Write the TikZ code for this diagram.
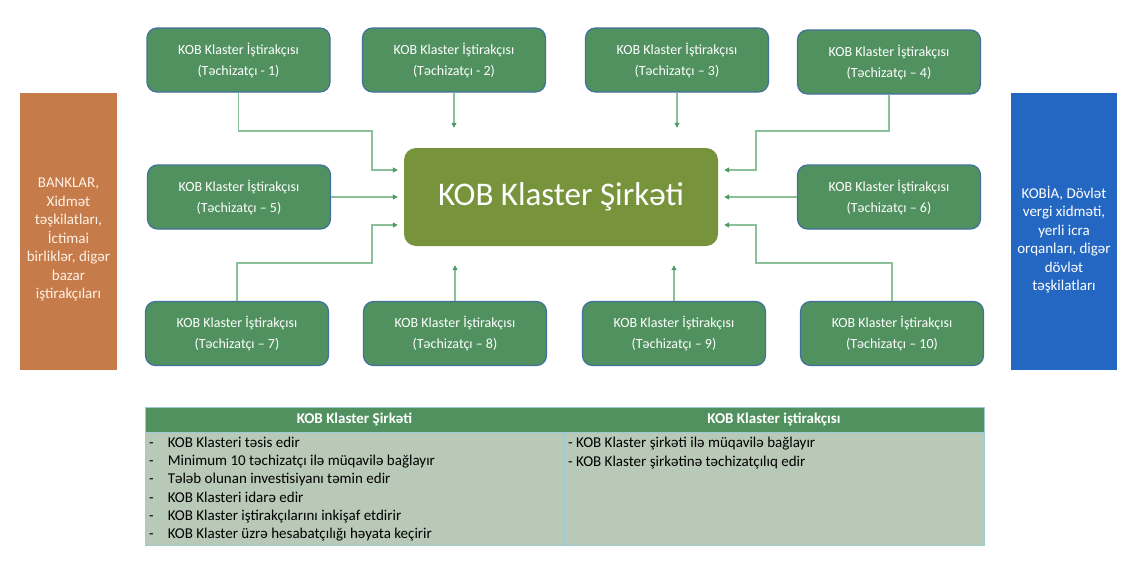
\documentclass[tikz,border=0pt]{standalone}
\usepackage{fontspec}
\setmainfont{Carlito}
\usetikzlibrary{arrows.meta}
\definecolor{boxgreen}{HTML}{50915F}
\definecolor{boxline}{HTML}{41719C}
\definecolor{olive}{HTML}{77933C}
\definecolor{connline}{HTML}{8CC09A}
\definecolor{tipgreen}{HTML}{4E9A64}
\definecolor{bankorange}{HTML}{C67B4B}
\definecolor{govblue}{HTML}{2467C2}
\definecolor{tabbody}{HTML}{B8C9B7}
\definecolor{tabline}{HTML}{9DCBD3}
\tikzset{
  member/.style={draw=boxline, line width=1.2pt, fill=boxgreen, rounded corners=10pt, minimum width=183pt, minimum height=64pt, text=white, align=center, font=\fontsize{14}{21}\selectfont},
  conn/.style={draw=connline, line width=1.2pt, -{Triangle[length=5pt,width=5pt,color=tipgreen]}},
  sidebox/.style={minimum height=277pt, inner sep=0pt},
  sidetext/.style={align=center, font=\fontsize{15}{18.5}\selectfont},
  tabhead/.style={text=white, font=\fontsize{15}{18}\selectfont\bfseries}
}
\begin{document}
\begin{tikzpicture}[x=1pt, y=-1pt]
\useasboundingbox (0,0) rectangle (1137,568);
% centre
\node[fill=olive, rounded corners=12pt, minimum width=314pt, minimum height=98pt, text=white, font=\fontsize{33}{38}\selectfont] (c) at (561,197) {KOB Klaster Şirkəti};
% suppliers
\node[member] (b1) at (238.5,60) {KOB Klaster İştirakçısı\\(Təchizatçı - 1)};
\node[member] (b2) at (454,60) {KOB Klaster İştirakçısı\\(Təchizatçı - 2)};
\node[member] (b3) at (677,60) {KOB Klaster İştirakçısı\\(Təchizatçı – 3)};
\node[member] (b4) at (889,62) {KOB Klaster İştirakçısı\\(Təchizatçı – 4)};
\node[member] (b5) at (239,197) {KOB Klaster İştirakçısı\\(Təchizatçı – 5)};
\node[member] (b6) at (889,197) {KOB Klaster İştirakçısı\\(Təchizatçı – 6)};
\node[member] (b7) at (237,333.5) {KOB Klaster İştirakçısı\\(Təchizatçı – 7)};
\node[member] (b8) at (455,333.5) {KOB Klaster İştirakçısı\\(Təchizatçı – 8)};
\node[member] (b9) at (674,333.5) {KOB Klaster İştirakçısı\\(Təchizatçı – 9)};
\node[member] (b10) at (892,333.5) {KOB Klaster İştirakçısı\\(Təchizatçı – 10)};
% connectors
\draw[conn] (b1.south) |- (372,131) |- ([xshift=-6pt,yshift=27pt]c.west);
\draw[conn] (b5.east) -- ([xshift=-6pt]c.west);
\draw[conn] (b7.north) |- (372,263) |- ([xshift=-6pt,yshift=-28pt]c.west);
\draw[conn] (b2.south) -- ([yshift=20pt]c.north -| b2.south);
\draw[conn] (b3.south) -- ([yshift=20pt]c.north -| b3.south);
\draw[conn] (b4.south) |- (756,131) |- ([xshift=6pt,yshift=27pt]c.east);
\draw[conn] (b6.west) -- ([xshift=6pt]c.east);
\draw[conn] (b10.north) |- (756,263) |- ([xshift=6pt,yshift=-28pt]c.east);
\draw[conn] (b8.north) -- ([yshift=-19pt]c.south -| b8.north);
\draw[conn] (b9.north) -- ([yshift=-19pt]c.south -| b9.north);
% side boxes
\node[sidebox, fill=bankorange, minimum width=97pt] (bank) at (68.5,231.5) {};
\node[sidetext, text=orange!10] (banktxt) at ([yshift=-8pt]bank.center) {BANKLAR,\\Xidmət\\təşkilatları,\\İctimai\\birliklər, digər\\bazar\\iştirakçıları};
\node[sidebox, fill=govblue, minimum width=106pt] (gov) at (1064,231.5) {};
\node[sidetext, text=white] (govtxt) at ([yshift=-8pt]gov.center) {KOBİA, Dövlət\\vergi xidməti,\\yerli icra\\orqanları, digər\\dövlət\\təşkilatları};
% table
\fill[boxgreen] (145,407) rectangle (984,432);
\fill[tabbody] (145,432) rectangle (984,545);
\draw[tabline, line width=1pt] (145,407) rectangle (984,545) (145,432) -- (984,432) (564,432) -- (564,545);
\node[tabhead] (th1) at (354.5,419.5) {KOB Klaster Şirkəti};
\node[tabhead] (th2) at (774,419.5) {KOB Klaster iştirakçısı};
\node[anchor=north west, inner sep=0pt, font=\fontsize{15}{18.2}\selectfont] (tl) at (149,434.5) {\begin{tabular}{@{}l@{\hspace{14pt}}l@{}}
-&KOB Klasteri təsis edir\\
-&Minimum 10 təchizatçı ilə müqavilə bağlayır\\
-&Tələb olunan investisiyanı təmin edir\\
-&KOB Klasteri idarə edir\\
-&KOB Klaster iştirakçılarını inkişaf etdirir\\
-&KOB Klaster üzrə hesabatçılığı həyata keçirir
\end{tabular}};
\node[anchor=north west, inner sep=0pt, align=left, font=\fontsize{15}{19}\selectfont] (tr) at (568,437) {- KOB Klaster şirkəti ilə müqavilə bağlayır\\- KOB Klaster şirkətinə təchizatçılıq edir};
\end{tikzpicture}
\end{document}
